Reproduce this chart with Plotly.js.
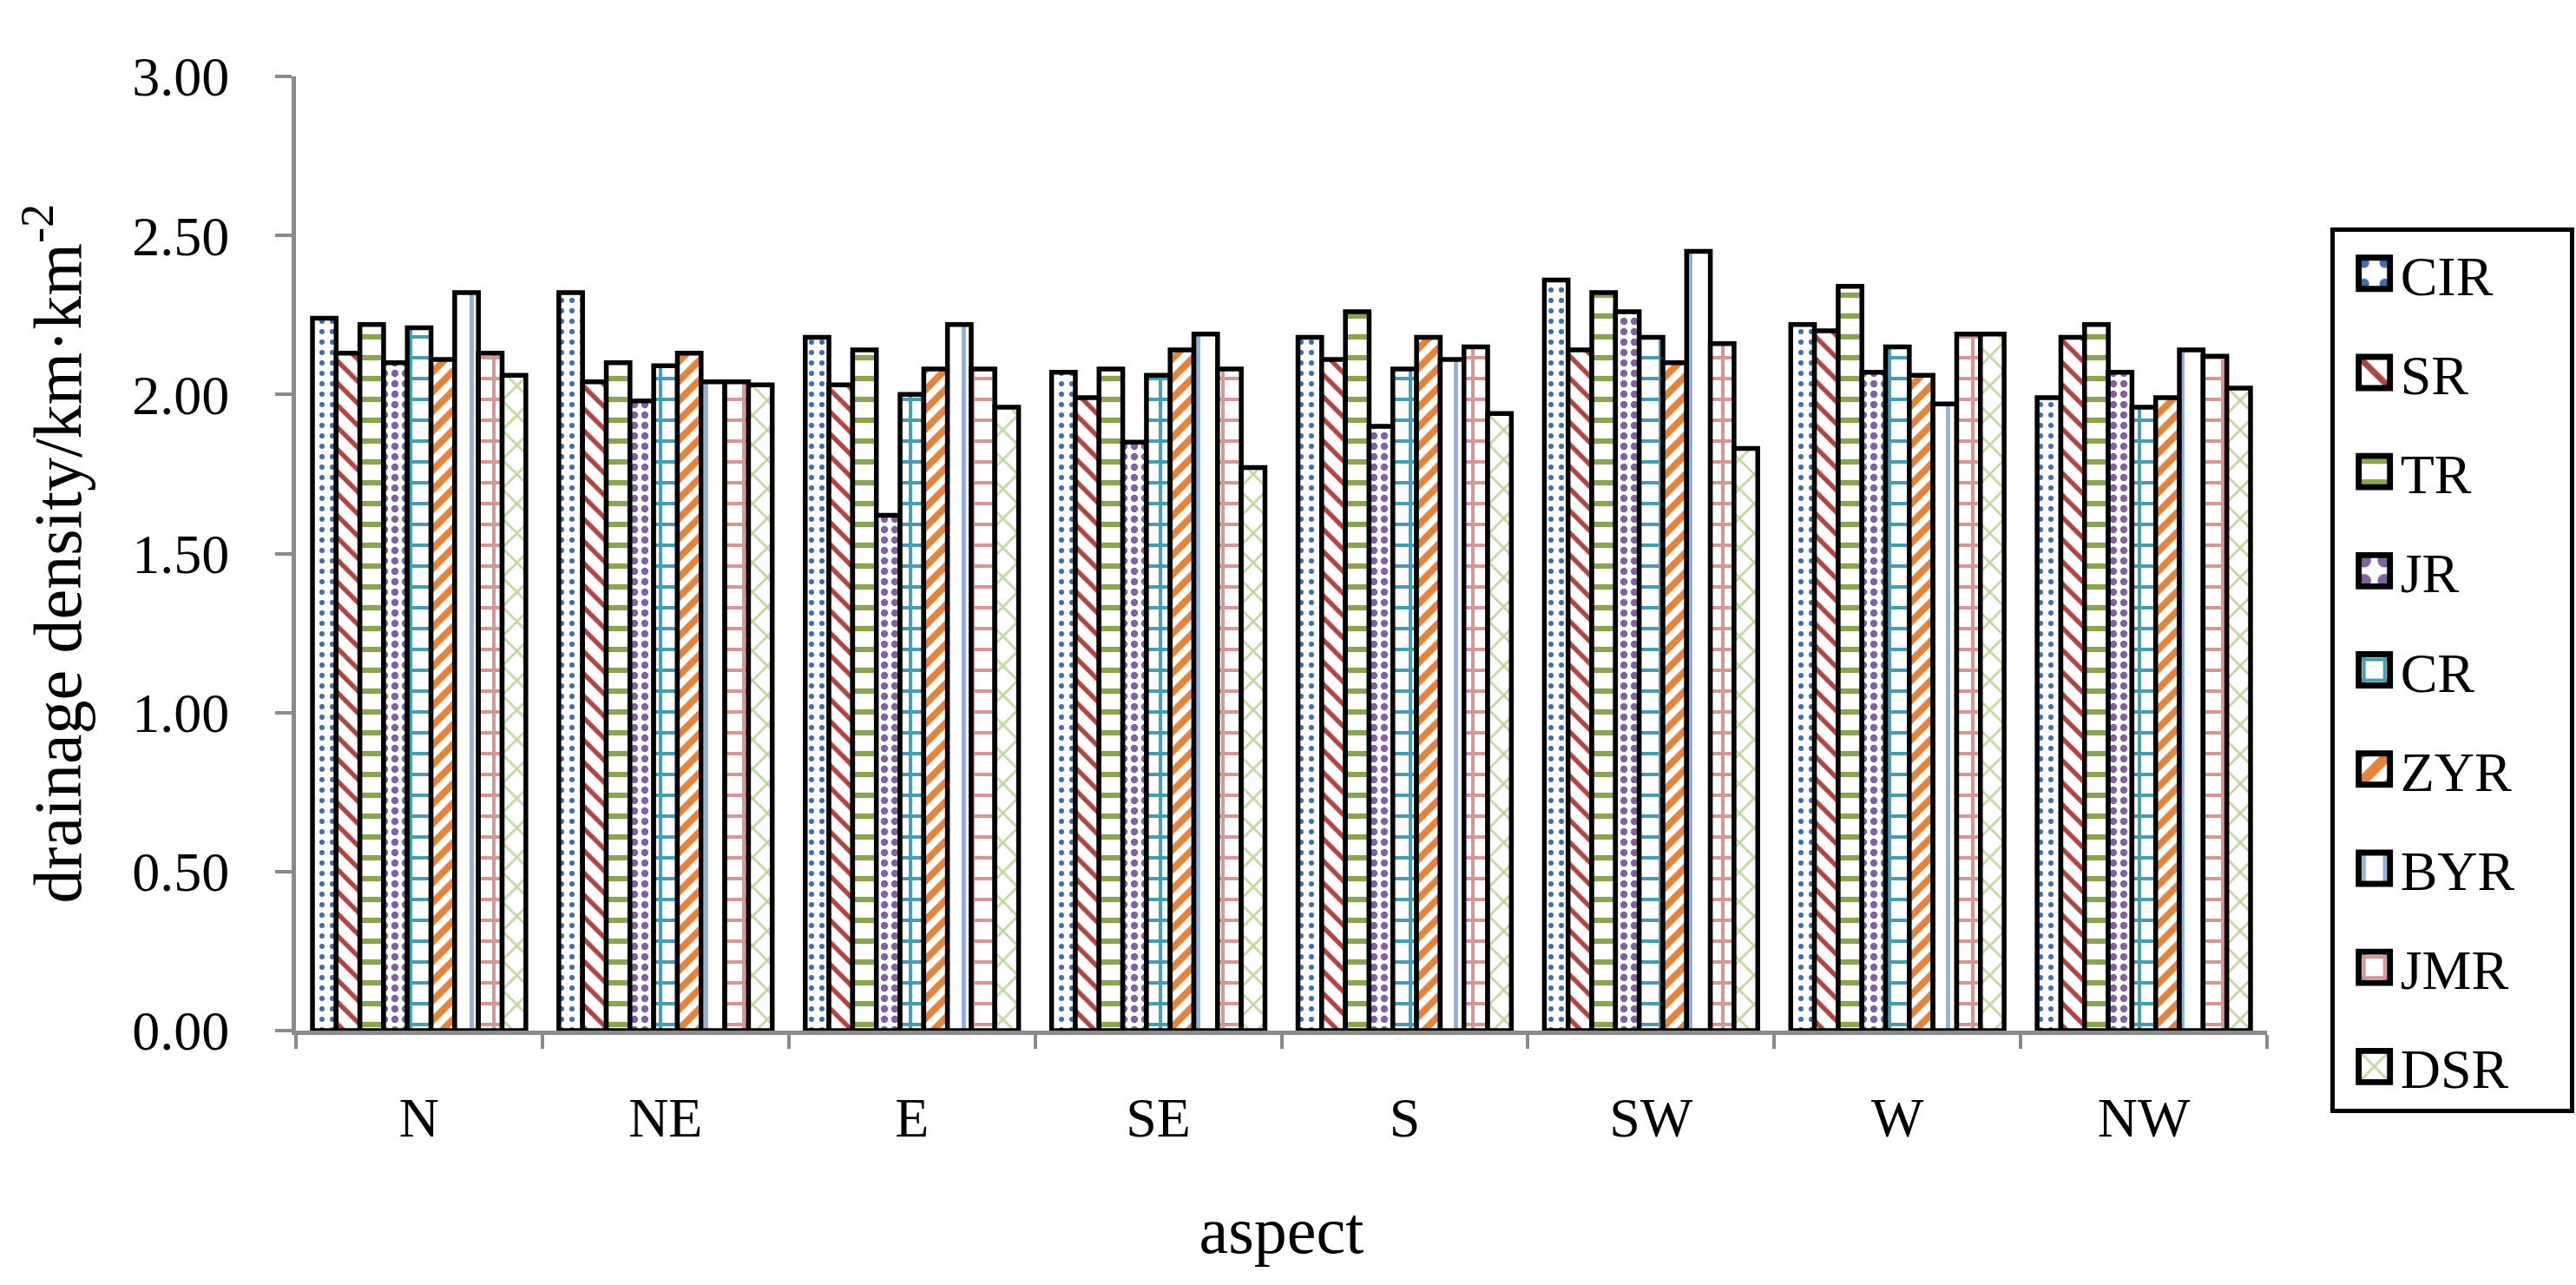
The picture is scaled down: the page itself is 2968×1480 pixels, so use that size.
<!DOCTYPE html>
<html>
<head>
<meta charset="utf-8">
<script src="https://cdn.plot.ly/plotly-3.0.1.min.js"></script>
<style>
  html, body { margin: 0; padding: 0; background: #fff; }
  #chart { width: 2968px; height: 1480px; }
</style>
</head>
<body>
<div id="chart"></div>
<script>
// Kategorien (Exposition)
const aspects = ['N', 'NE', 'E', 'SE', 'S', 'SW', 'W', 'NW'];

// Flussgebiete
const rivers = ['CIR', 'SR', 'TR', 'JR', 'CR', 'ZYR', 'BYR', 'JMR', 'DSR'];

// Gewässernetzdichte je Flussgebiet (km/km²)
const CIR = [2.24, 2.32, 2.18, 2.07, 2.18, 2.36, 2.22, 1.99];
const SR  = [2.13, 2.04, 2.03, 1.99, 2.11, 2.14, 2.20, 2.18];
const TR  = [2.22, 2.10, 2.14, 2.08, 2.26, 2.32, 2.34, 2.22];
const JR  = [2.10, 1.98, 1.62, 1.85, 1.90, 2.26, 2.07, 2.07];
const CR  = [2.21, 2.09, 2.00, 2.06, 2.08, 2.18, 2.15, 1.96];
const ZYR = [2.11, 2.13, 2.08, 2.14, 2.18, 2.10, 2.06, 1.99];
const BYR = [2.32, 2.04, 2.22, 2.19, 2.11, 2.45, 1.97, 2.14];
const JMR = [2.13, 2.04, 2.08, 2.08, 2.15, 2.16, 2.19, 2.12];
const DSR = [2.06, 2.03, 1.96, 1.77, 1.94, 1.83, 2.19, 2.02];

const values = [CIR, SR, TR, JR, CR, ZYR, BYR, JMR, DSR];

// Muster je Serie (Excel-ähnliche Schraffuren)
const patterns = [
  { shape: '.',  fgcolor: '#3f6fab', size: 12, solidity: 0.2 },
  { shape: '\\', fgcolor: '#b04442', size: 18, solidity: 0.3 },
  { shape: '-',  fgcolor: '#8ba54d', size: 24, solidity: 0.26 },
  { shape: '.',  fgcolor: '#7f62a2', size: 12, solidity: 0.38 },
  { shape: '+',  fgcolor: '#449db3', size: 24, solidity: 0.3 },
  { shape: '/',  fgcolor: '#e3843a', size: 16, solidity: 0.5 },
  { shape: '|',  fgcolor: '#95b0d8', size: 27, solidity: 0.18 },
  { shape: '+',  fgcolor: '#d79694', size: 24, solidity: 0.3 },
  { shape: 'x',  fgcolor: '#c2d79e', size: 24, solidity: 0.22 }
];

const serif = 'Liberation Serif, Times New Roman, serif';

const traces = rivers.map((name, i) => ({
  type: 'bar',
  name: name,
  x: aspects,
  y: values[i],
  legendgroup: name,
  marker: {
    color: '#ffffff',
    line: { color: '#000000', width: 5.5 },
    pattern: Object.assign({ bgcolor: '#ffffff', fillmode: 'replace' }, patterns[i])
  }
}));

const layout = {
  width: 2968,
  height: 1480,
  paper_bgcolor: '#ffffff',
  plot_bgcolor: '#ffffff',
  margin: { l: 341, r: 356, t: 88, b: 293 },
  barmode: 'group',
  bargap: 0.134,
  bargroupgap: 0,
  font: { family: serif, color: '#000000', size: 64 },
  xaxis: {
    type: 'category',
    showline: true,
    linecolor: '#8a8a8a',
    linewidth: 5,
    ticks: 'outside',
    tickson: 'boundaries',
    ticklen: 16,
    tickwidth: 4,
    tickcolor: '#8a8a8a',
    ticklabelstandoff: 40,
    tickfont: { family: serif, size: 64 },
    showgrid: false,
    zeroline: false,
    title: { text: 'aspect', font: { family: serif, size: 76 }, standoff: 70 }
  },
  yaxis: {
    range: [0, 3],
    dtick: 0.5,
    tickformat: '.2f',
    showline: true,
    linecolor: '#8a8a8a',
    linewidth: 5,
    ticks: 'outside',
    ticklen: 19,
    tickwidth: 4,
    tickcolor: '#8a8a8a',
    ticklabelstandoff: 40,
    tickfont: { family: serif, size: 64 },
    showgrid: false,
    zeroline: false,
    title: { text: 'drainage density/km·km<sup>-2</sup>', font: { family: serif, size: 78 }, standoff: 34 }
  },
  showlegend: true,
  legend: {
    x: 1.032,
    xanchor: 'left',
    y: 0.842,
    yanchor: 'top',
    traceorder: 'grouped',
    tracegroupgap: 28,
    itemwidth: 66,
    bordercolor: '#000000',
    borderwidth: 5,
    bgcolor: '#ffffff',
    font: { family: serif, size: 64 }
  }
};

Plotly.newPlot('chart', traces, layout, { displayModeBar: false, staticPlot: true }).then(() => {
  // Legendensymbole vergrößern (Standard ist nur 12 px), vorhandene Verschiebung behalten
  document.querySelectorAll('.legendpoints path').forEach(p => {
    const t = p.getAttribute('transform') || '';
    p.setAttribute('transform', 'translate(8,0) ' + t + ' scale(3)');
    p.style.strokeWidth = '2.3px';
  });
  // Legendenrahmen etwas breiter wie im Original
  const bg = document.querySelector('.legend rect.bg');
  if (bg) bg.setAttribute('width', parseFloat(bg.getAttribute('width')) + 58);
});
</script>
</body>
</html>
